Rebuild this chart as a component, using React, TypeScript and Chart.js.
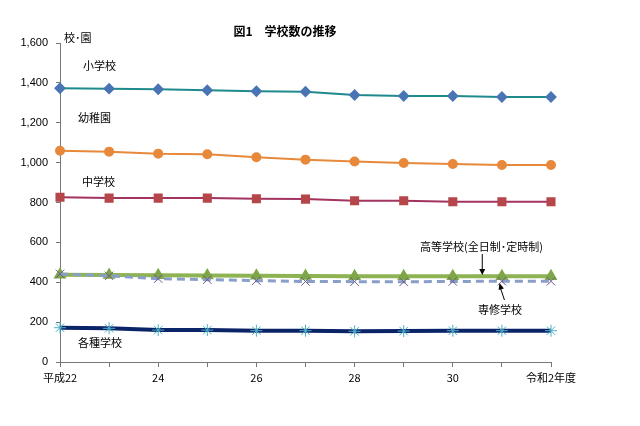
import React, { useEffect, useRef } from "react";
import { Chart, registerables } from "chart.js";

Chart.register(...registerables);

const categories = ["平成22", "23", "24", "25", "26", "27", "28", "29", "30", "31", "令和2年度"];
const tickLabels = ["平成22", "", "24", "", "26", "", "28", "", "30", "", "令和2年度"];

const elementary = [1373, 1371, 1368, 1363, 1358, 1356, 1339, 1334, 1334, 1329, 1329];
const kindergarten = [1060, 1055, 1045, 1042, 1027, 1015, 1006, 998, 993, 988, 988];
const juniorHigh = [826, 822, 822, 822, 819, 817, 809, 809, 804, 804, 804];
const highSchool = [437, 436, 435, 434, 433, 431, 430, 430, 430, 430, 430];
const specialTraining = [442, 432, 418, 413, 408, 404, 403, 402, 404, 405, 405];
const miscSchool = [172, 169, 160, 160, 157, 157, 154, 155, 157, 157, 157];

const JP = '"Noto Sans CJK JP", "Noto Sans", sans-serif';

const labelPlugin = {
  id: "labels",
  afterDraw(chart: any) {
    const ctx = chart.ctx;
    const x = chart.scales.x;
    const y = chart.scales.y;
    ctx.save();
    ctx.fillStyle = "#000";
    ctx.textBaseline = "middle";
    ctx.textAlign = "center";
    ctx.font = `bold 12px ${JP}`;
    ctx.fillText("図1　学校数の推移", 285, 31);
    ctx.font = `11px ${JP}`;
    ctx.textAlign = "left";
    ctx.fillText("校･園", 64, 38);
    ctx.fillText("小学校", 83, 66);
    ctx.fillText("幼稚園", 78, 118);
    ctx.fillText("中学校", 82, 182);
    ctx.fillText("各種学校", 78, 343);
    ctx.fillText("専修学校", 478, 310);
    ctx.fillText("高等学校(全日制･定時制)", 420, 247);

    // arrows
    ctx.strokeStyle = "#000";
    ctx.fillStyle = "#000";
    ctx.lineWidth = 1;
    const ax = x.getPixelForValue(8.6);
    const ay1 = 254;
    const ay2 = y.getPixelForValue(436);
    ctx.beginPath();
    ctx.moveTo(ax, ay1);
    ctx.lineTo(ax, ay2 - 5);
    ctx.stroke();
    ctx.beginPath();
    ctx.moveTo(ax, ay2);
    ctx.lineTo(ax - 3, ay2 - 6);
    ctx.lineTo(ax + 3, ay2 - 6);
    ctx.closePath();
    ctx.fill();

    const bx = x.getPixelForValue(8.95);
    const by = y.getPixelForValue(396);
    const sx = bx + 5;
    const sy = 300;
    ctx.beginPath();
    ctx.moveTo(sx, sy);
    ctx.lineTo(bx + 1, by + 5);
    ctx.stroke();
    const ang = Math.atan2(by - sy, bx - sx);
    ctx.beginPath();
    ctx.moveTo(bx, by);
    ctx.lineTo(bx - 7 * Math.cos(ang - 0.4), by - 7 * Math.sin(ang - 0.4));
    ctx.lineTo(bx - 7 * Math.cos(ang + 0.4), by - 7 * Math.sin(ang + 0.4));
    ctx.closePath();
    ctx.fill();
    ctx.restore();
  },
};

export default function App() {
  const ref = useRef<HTMLCanvasElement>(null);
  useEffect(() => {
    if (!ref.current) return;
    const chart = new Chart(ref.current, {
      type: "line",
      data: {
        labels: categories,
        datasets: [
          {
            label: "小学校",
            data: elementary,
            borderColor: "#1f8a8c",
            borderWidth: 2,
            pointStyle: "rectRot",
            pointRadius: 4.5,
            pointBackgroundColor: "#4a74b4",
            pointBorderColor: "#4a74b4",
          },
          {
            label: "幼稚園",
            data: kindergarten,
            borderColor: "#e8883a",
            borderWidth: 2,
            pointStyle: "circle",
            pointRadius: 4,
            pointBackgroundColor: "#e8883a",
            pointBorderColor: "#e8883a",
          },
          {
            label: "中学校",
            data: juniorHigh,
            borderColor: "#a3335f",
            borderWidth: 2,
            pointStyle: "rect",
            pointRadius: 5,
            pointBackgroundColor: "#b5464a",
            pointBorderColor: "#b5464a",
          },
          {
            label: "専修学校",
            data: specialTraining,
            borderColor: "#8a9fc8",
            borderWidth: 3,
            borderDash: [8, 5],
            pointStyle: "crossRot",
            pointRadius: 6,
            pointBorderWidth: 1,
            pointBorderColor: "#6b5d8e",
            pointBackgroundColor: "#6b5d8e",
          },
          {
            label: "高等学校(全日制･定時制)",
            data: highSchool,
            borderColor: "#8db353",
            borderWidth: 4,
            pointStyle: "triangle",
            pointRadius: 3.5,
            pointBackgroundColor: "#7fa646",
            pointBorderColor: "#7fa646",
          },
          {
            label: "各種学校",
            data: miscSchool,
            borderColor: "#0a2468",
            borderWidth: 4,
            pointStyle: "star",
            pointRadius: 6,
            pointBorderWidth: 1,
            pointBorderColor: "#4fb1c8",
            pointBackgroundColor: "#4fb1c8",
          },
        ],
      },
      options: {
        animation: false,
        responsive: false,
        layout: { padding: { left: 0, right: 89, top: 43, bottom: 0 } },
        plugins: {
          legend: { display: false },
          tooltip: { enabled: false },
          title: { display: false },
        },
        scales: {
          x: {
            offset: false,
            grid: {
              display: true,
              drawOnChartArea: false,
              tickLength: 5,
              color: "#777",
            },
            border: { color: "#777", width: 1 },
            ticks: {
              autoSkip: false,
              maxRotation: 0,
              color: "#000",
              font: { family: JP, size: 11 },
              padding: 4,
              callback: (_v: any, i: number) => tickLabels[i],
            },
            afterFit: (s: any) => {
              s.height = 64;
            },
          },
          y: {
            min: 0,
            max: 1600,
            grid: {
              display: true,
              drawOnChartArea: false,
              tickLength: 4,
              color: "#777",
            },
            border: { color: "#777", width: 1 },
            ticks: {
              stepSize: 200,
              color: "#000",
              padding: 8,
              font: { family: '"Liberation Sans", Arial, sans-serif', size: 11 },
              callback: (v: any) => Number(v).toLocaleString("en-US"),
            },
            afterFit: (s: any) => {
              s.width = 60;
            },
          },
        },
      },
      plugins: [labelPlugin],
    });
    return () => chart.destroy();
  }, []);
  return (
    <div style={{ position: "fixed", left: 0, top: 0, width: 640, height: 426, background: "#fff" }}>
      <canvas ref={ref} width={640} height={426} />
    </div>
  );
}
